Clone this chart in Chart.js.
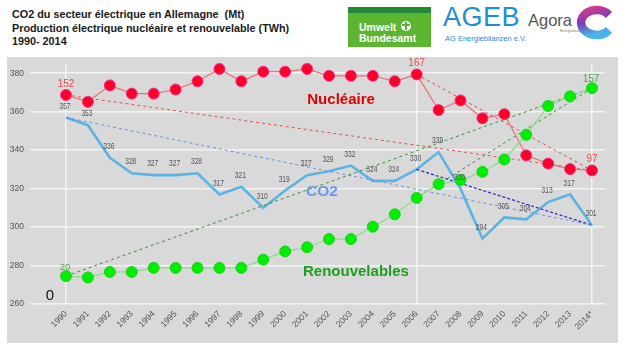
<!DOCTYPE html>
<html>
<head>
<meta charset="utf-8">
<script src="https://cdn.jsdelivr.net/npm/chart.js@4.4.0/dist/chart.umd.min.js"></script>
<style>
  html,body{margin:0;padding:0;background:#fff;}
  body{width:626px;height:356px;position:relative;overflow:hidden;font-family:Arial,"Liberation Sans",sans-serif;}
  #title{position:absolute;left:12px;top:8px;font-weight:bold;font-size:10.8px;line-height:13.5px;color:#1a1a1a;white-space:nowrap;}
  #plot{position:absolute;left:7px;top:57px;width:611px;height:286px;background:#d9d9d9;}
  #uba{position:absolute;left:348px;top:7px;width:83px;height:40px;background:#5cb531;}
  #uba .strip{position:absolute;left:0;top:0;width:83px;height:6px;background:#21893a;}
  #uba .t{position:absolute;left:11px;color:#fff;font-weight:bold;font-size:10.5px;line-height:10px;white-space:nowrap;}
  #uba .ic{position:absolute;left:53px;top:14px;width:10px;height:10px;border-radius:50%;background:#fff;}
  #uba .ic:before{content:"";position:absolute;left:4px;top:1px;width:2px;height:8px;background:#5cb531;}
  #uba .ic:after{content:"";position:absolute;left:1px;top:3px;width:8px;height:2px;background:#5cb531;}
  #ageb{position:absolute;left:443px;top:4px;font-size:27px;line-height:27px;color:#1f8ed8;letter-spacing:0.5px;}
  #agebsub{position:absolute;left:445px;top:35px;font-size:7.5px;line-height:8px;color:#1f8ed8;white-space:nowrap;}
  #agora{position:absolute;left:528px;top:11px;font-size:16.5px;line-height:18px;color:#555;}
  #agorasub{position:absolute;left:560px;top:29px;font-size:3.5px;line-height:4px;color:#777;}
  #clogo{position:absolute;left:575px;top:3px;}
</style>
</head>
<body>
<div id="title">CO2 du secteur électrique en Allemagne&nbsp; (Mt)<br>Production électrique nucléaire et renouvelable (TWh)<br>1990- 2014</div>

<div id="uba"><div class="strip"></div><div class="t" style="top:15px">Umwelt</div><div class="ic"></div><div class="t" style="top:26px">Bundesamt</div></div>
<div id="ageb">AGEB</div>
<div id="agebsub">AG Energiebilanzen e.V.</div>
<div id="agora">Agora</div>
<div id="agorasub">Energiewende</div>
<svg id="clogo" width="46" height="40" viewBox="0 0 46 40">
  <defs>
    <linearGradient id="cg" x1="0" y1="0" x2="0.3" y2="1">
      <stop offset="0" stop-color="#d23b8e"/>
      <stop offset="0.5" stop-color="#7a3db2"/>
      <stop offset="1" stop-color="#49b3ea"/>
    </linearGradient>
  </defs>
  <path d="M34 12 A15.5 12.5 0 1 0 34 27" fill="none" stroke="url(#cg)" stroke-width="8.5"/>
</svg>

<div id="plot"><canvas id="c" width="611" height="286"></canvas></div>

<script>
// ---- data ----
const years = [1990,1991,1992,1993,1994,1995,1996,1997,1998,1999,2000,2001,2002,2003,2004,2005,2006,2007,2008,2009,2010,2011,2012,2013,2014];
const xLabels = ['1990','1991','1992','1993','1994','1995','1996','1997','1998','1999','2000','2001','2002','2003','2004','2005','2006','2007','2008','2009','2010','2011','2012','2013','2014*'];
const co2 = [357,353,336,328,327,327,328,317,321,310,319,327,329,332,324,324,330,339,320,294,305,304,313,317,301];
const nuclear = [152,147,159,153,153,156,162,171,162,169,169,171,166,166,166,162,167,141,148,135,138,108,102,98,97];
const renew = [20,19,23,23,26,26,26,26,26,32,38,41,47,47,56,65,77,87,90,96,105,123,144,151,157];
const yTicks = [260,280,300,320,340,360,380];
const vLines = [1990,2006,2014];
const nucLabelIdx = [0,16,24];
const renLabelIdx = [0,24];
const trendFrom = [1990,2006];
const trendTo = 2014;

const pts = arr => years.map((yr,i)=>({x:yr,y:arr[i]}));
const seg = (arr,from) => [{x:from,y:arr[years.indexOf(from)]},{x:trendTo,y:arr[years.indexOf(trendTo)]}];

const labelPlugin = {
  id:'labels',
  afterDatasetsDraw(chart){
    const {ctx, scales:{x,y,y2}} = chart;
    ctx.save();
    ctx.textAlign='center'; ctx.textBaseline='middle';
    // CO2 value labels
    ctx.fillStyle='#555';
    ctx.font='9.5px Arial';
    co2.forEach((v,i)=>{
      const px = x.getPixelForValue(years[i]) - 1;
      const py = y.getPixelForValue(v) - 11.5;
      ctx.save(); ctx.translate(px,py); ctx.scale(0.7,1); ctx.fillText(String(v),0,0); ctx.restore();
    });
    // nuclear labels
    ctx.font='10px Arial'; ctx.fillStyle='#e64b4b';
    nucLabelIdx.forEach(i=>{
      ctx.fillText(String(nuclear[i]), x.getPixelForValue(years[i]), y2.getPixelForValue(nuclear[i]) - 11);
    });
    // renewable labels
    ctx.fillStyle='#4aa84a';
    renLabelIdx.forEach(i=>{
      ctx.font = (i===0 ? '9.5px' : '10px') + ' Arial';
      ctx.fillText(String(renew[i]), x.getPixelForValue(years[i]) - 1, y2.getPixelForValue(renew[i]) - 8.5);
    });
    // series names
    ctx.font='bold 15px Arial';
    ctx.fillStyle='#e00000'; ctx.fillText('Nucléaire', x.getPixelForValue(2002.55), y.getPixelForValue(366.3));
    ctx.fillStyle='#6b9be8'; ctx.font='bold 15.5px Arial'; ctx.fillText('CO2', x.getPixelForValue(2001.68), y.getPixelForValue(318.2));
    ctx.fillStyle='#1e9e1e'; ctx.font='bold 15px Arial'; ctx.fillText('Renouvelables', x.getPixelForValue(2003.23), y.getPixelForValue(276.7));
    ctx.fillStyle='#111'; ctx.font='15px Arial'; ctx.fillText('0', x.getPixelForValue(1989.27), y.getPixelForValue(264.05));
    ctx.restore();
  }
};

const trendDs = (arr, axis, from, color, dash, width) => ({
  data: seg(arr, from), yAxisID: axis, borderColor: color, borderDash: dash, borderWidth: width,
  pointRadius: 0, fill: false, tension: 0, clip: false
});

new Chart(document.getElementById('c'), {
  type: 'line',
  data: {
    datasets: [
      { data: pts(renew), yAxisID:'y2', borderColor:'#85e085', borderWidth:1.2, backgroundColor:'#00ee00',
        pointBackgroundColor:'#00ee00', pointBorderColor:'#1fcf1f', pointBorderWidth:1, pointRadius:5.5, clip:false, tension:0 },
      { data: pts(nuclear), yAxisID:'y2', borderColor:'#e87070', borderWidth:1.2, backgroundColor:'#ff0028',
        pointBackgroundColor:'#ff0028', pointBorderColor:'#f0308a', pointBorderWidth:1, pointRadius:5.5, clip:false, tension:0 },
      trendDs(nuclear,'y2',trendFrom[0],'#e05050',[3,3],1),
      trendDs(nuclear,'y2',trendFrom[1],'#e05050',[3,3],1),
      trendDs(renew,'y2',trendFrom[0],'#3f8f3f',[3,3],1),
      trendDs(renew,'y2',trendFrom[1],'#3f8f3f',[3,3],1),
      trendDs(co2,'y',trendFrom[0],'#6e8fe0',[3,3],1),
      trendDs(co2,'y',trendFrom[1],'#2b2bcc',[3,2],1.2),
      { data: pts(co2), yAxisID:'y', borderColor:'#5db3e3', borderWidth:2.6, pointRadius:0, fill:false, tension:0, clip:false }
    ]
  },
  options: {
    responsive:false, animation:false, devicePixelRatio:1,
    layout:{padding:{left:0,right:13,top:0,bottom:0}},
    plugins:{legend:{display:false}, tooltip:{enabled:false}},
    scales:{
      x:{
        type:'linear', min:1988.357, max:2014.593,
        afterBuildTicks:s=>{ s.ticks = years.map(v=>({value:v})); },
        afterFit:s=>{ s.height = 39; s.paddingLeft = 0; s.paddingRight = 0; },
        ticks:{ autoSkip:false, maxRotation:45, minRotation:45, padding:5, color:'#555',
                font:{size:8.5, family:'Arial'},
                callback:(v)=>{ const i = years.indexOf(v); return i>=0 ? xLabels[i] : ''; } },
        grid:{ drawTicks:false, lineWidth:1.5,
               color:(c)=> (c.tick && vLines.includes(c.tick.value)) ? '#f3f3f3' : 'rgba(0,0,0,0)' },
        border:{display:false}
      },
      y:{
        type:'linear', position:'left', min:260, max:385.06,
        afterBuildTicks:s=>{ s.ticks = yTicks.map(v=>({value:v})); },
        afterFit:s=>{ s.width = 23; s.paddingTop = 0; s.paddingBottom = 0; },
        ticks:{ padding:6, color:'#555', font:{size:8.5, family:'Arial'} },
        grid:{ drawTicks:false, color:'#f3f3f3', lineWidth:1.5 },
        border:{display:false}
      },
      y2:{ type:'linear', display:false, min:-0.35, max:174.95 }
    }
  },
  plugins:[labelPlugin]
});
</script>
</body>
</html>
